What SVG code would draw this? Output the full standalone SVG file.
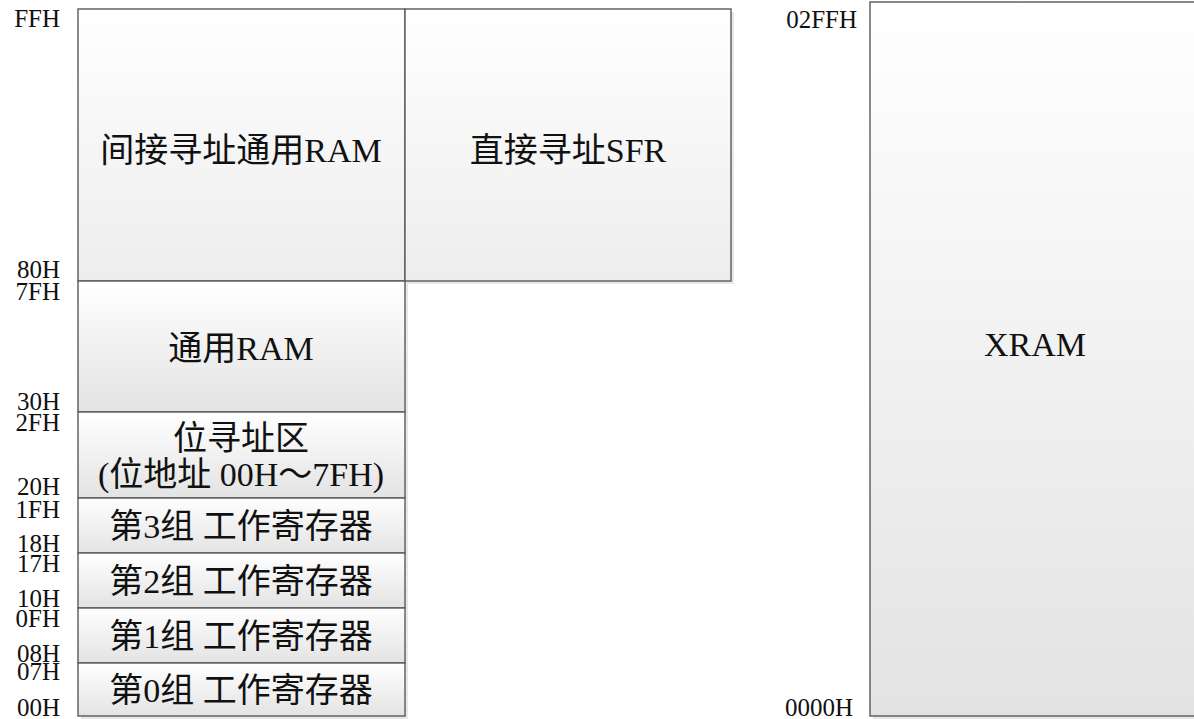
<svg xmlns="http://www.w3.org/2000/svg" width="1194" height="719" viewBox="0 0 1194 719">
<defs>
<linearGradient id="g1" x1="0" y1="0" x2="0" y2="1"><stop offset="0" stop-color="#ffffff"/><stop offset="1" stop-color="#e3e3e3"/></linearGradient>
<linearGradient id="g2" x1="0" y1="0" x2="0" y2="1"><stop offset="0" stop-color="#ffffff"/><stop offset="1" stop-color="#ededed"/></linearGradient>
</defs>
<style>
.box{stroke:#5a5a5a;stroke-width:1.4;fill:url(#g1)}
.top{fill:url(#g2)}
.sh{fill:#e8e8e8;stroke:none}
.t{font-family:"Liberation Serif","Noto Sans CJK SC",serif;font-size:34px;fill:#111;text-anchor:middle}
.a{font-family:"Liberation Serif",serif;font-size:25px;fill:#111;text-anchor:end}
</style>
<rect width="1194" height="719" fill="#fff"/>
<g id="shadows">
<rect class="sh" x="81" y="12" width="653" height="272"/>
<rect class="sh" x="81" y="284" width="327" height="435"/>
<rect class="sh" x="873" y="5" width="330" height="714"/>
</g>
<g id="n-indirect"><rect class="box top" x="78" y="9" width="327" height="272"/><text class="t" x="241" y="162">间接寻址通用RAM</text></g>
<g id="n-sfr"><rect class="box top" x="405" y="9" width="326" height="272"/><text class="t" x="568" y="162">直接寻址SFR</text></g>
<g id="n-ram"><rect class="box" x="78" y="281" width="327" height="131"/><text class="t" x="241" y="360">通用RAM</text></g>
<g id="n-bit"><rect class="box" x="78" y="412" width="327" height="86"/><text class="t" x="241" y="450">位寻址区</text><text class="t" x="241" y="486">(位地址 00H～7FH)</text></g>
<g id="n-bank3"><rect class="box" x="78" y="498" width="327" height="55"/><text class="t" x="241" y="538">第3组 工作寄存器</text></g>
<g id="n-bank2"><rect class="box" x="78" y="553" width="327" height="55"/><text class="t" x="241" y="593">第2组 工作寄存器</text></g>
<g id="n-bank1"><rect class="box" x="78" y="608" width="327" height="55"/><text class="t" x="241" y="648">第1组 工作寄存器</text></g>
<g id="n-bank0"><rect class="box" x="78" y="663" width="327" height="53"/><text class="t" x="241" y="702">第0组 工作寄存器</text></g>
<g id="n-xram"><rect class="box" x="870" y="2" width="330" height="714"/><text class="t" x="1035" y="356">XRAM</text></g>
<g id="labels">
<text class="a" x="60" y="27">FFH</text>
<text class="a" x="60" y="278">80H</text>
<text class="a" x="60" y="300">7FH</text>
<text class="a" x="60" y="410">30H</text>
<text class="a" x="60" y="431">2FH</text>
<text class="a" x="60" y="495">20H</text>
<text class="a" x="60" y="518">1FH</text>
<text class="a" x="60" y="552">18H</text>
<text class="a" x="60" y="572">17H</text>
<text class="a" x="60" y="607">10H</text>
<text class="a" x="60" y="627">0FH</text>
<text class="a" x="60" y="662">08H</text>
<text class="a" x="60" y="680">07H</text>
<text class="a" x="60" y="716">00H</text>
<text class="a" x="857" y="28">02FFH</text>
<text class="a" x="853" y="716">0000H</text>
</g>
<g id="connectors"/>
</svg>
